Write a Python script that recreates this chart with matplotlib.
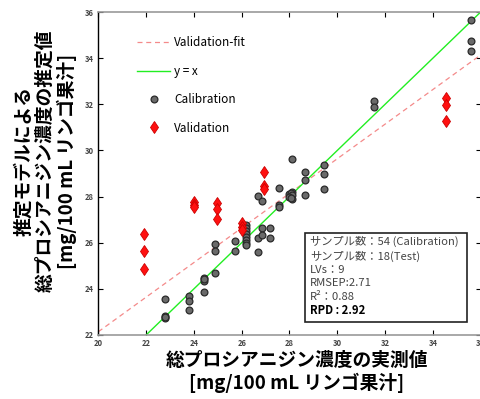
import matplotlib
matplotlib.use("Agg")
import matplotlib.pyplot as plt
from matplotlib.lines import Line2D
from matplotlib.patches import Rectangle
import numpy as np

plt.rcParams['font.family'] = ['Noto Sans CJK JP', 'DejaVu Sans']

# calibration samples (measured, predicted)
cal_x = [22.78, 22.78, 22.78, 22.78,
         23.78, 23.78, 23.78,
         24.44, 24.44, 24.44, 24.44,
         24.88, 24.88, 24.88,
         25.72, 25.72,
         26.17, 26.17, 26.17, 26.17, 26.17, 26.17, 26.17, 26.17,
         26.68, 26.68, 26.85, 26.85, 27.17, 27.17,
         26.67, 26.85, 27.56, 27.56, 27.56,
         28.10, 28.00, 28.05, 28.10, 28.00, 28.10, 28.05,
         28.12,
         28.65, 28.65, 28.65,
         29.43, 29.43, 29.43,
         31.52, 31.52,
         35.58, 35.58, 35.58]
cal_y = [23.55, 22.82, 22.72, 22.77,
         23.70, 23.46, 23.10,
         24.46, 24.36, 24.42, 23.88,
         25.94, 25.63, 24.67,
         26.07, 25.64,
         26.77, 26.64, 26.50, 26.37, 26.24, 26.10, 25.98, 25.92,
         26.22, 25.61, 26.62, 26.33, 26.64, 26.22,
         28.04, 27.80, 28.38, 27.62, 27.55,
         28.21, 28.12, 28.15, 28.06, 28.00, 27.90, 27.95,
         29.63,
         29.08, 28.72, 28.07,
         29.37, 28.98, 28.33,
         32.16, 31.87,
         35.65, 34.76, 34.30]

# validation samples
val_x = [21.92, 21.92, 21.92,
         24.02, 24.02, 24.02,
         24.98, 24.98, 24.98,
         26.00, 26.00, 26.00,
         26.93, 26.93, 26.93,
         34.54, 34.54, 34.54]
val_y = [26.36, 25.64, 24.87,
         27.78, 27.63, 27.53,
         27.71, 27.46, 27.02,
         26.84, 26.70, 26.55,
         29.08, 28.46, 28.32,
         32.26, 31.98, 31.28]

fit_slope = 0.75
fit_intercept = 7.14

x_ticks = [20, 22, 24, 26, 28, 30, 32, 34, 36]
y_ticks = [22, 24, 26, 28, 30, 32, 34, 36]

stats_lines = ["サンプル数：54 (Calibration)",
               "サンプル数：18(Test)",
               "LVs：9",
               "RMSEP:2.71",
               "R²：0.88",
               "RPD : 2.92"]

W, H = 481, 399
fig = plt.figure(figsize=(W / 100, H / 100), dpi=100)
ax = fig.add_axes([98.3 / W, 1 - 335 / H, (480.7 - 98.3) / W, (335 - 12) / H])

line_x = np.array([20, 36])
ax.plot(line_x, fit_slope * line_x + fit_intercept, color='#f48a8a',
        lw=0.9, dashes=(4, 3), zorder=2)
ax.plot(line_x, line_x, color='#22ee22', lw=1.0, zorder=2)

ax.plot(cal_x, cal_y, 'o', ms=4.9, mfc='#6a6a6a', mec='#2a2a2a', mew=0.9,
        ls='none', zorder=3)
ax.plot(val_x, val_y, 'd', ms=6, mfc='#ff1010', mec='#cc0000', mew=0.6,
        ls='none', zorder=4)

ax.set_xlim(20, 36)
ax.set_ylim(22, 36)
ax.set_xticks(x_ticks)
ax.set_yticks(y_ticks)
ax.tick_params(direction='in', top=True, right=True, length=3.5, width=0.8,
               labelsize=5.5, labelcolor='#444444', pad=3)
for lbl in ax.get_xticklabels() + ax.get_yticklabels():
    lbl.set_fontweight('bold')
ax.spines['left'].set_color('black')
ax.spines['left'].set_linewidth(1.0)
for s in ['bottom', 'top', 'right']:
    ax.spines[s].set_color('#999999')
    ax.spines[s].set_linewidth(1.2)

handles = [Line2D([], [], color='#f48a8a', lw=0.9, dashes=(4, 3)),
           Line2D([], [], color='#22ee22', lw=1.0),
           Line2D([], [], marker='o', ms=4.9, mfc='#6a6a6a', mec='#2a2a2a',
                  mew=0.9, ls='none'),
           Line2D([], [], marker='d', ms=6, mfc='#ff1010', mec='#cc0000',
                  mew=0.6, ls='none')]
labels = ['Validation-fit', 'y = x', 'Calibration', 'Validation']
fig.legend(handles, labels, loc='upper left',
           bbox_to_anchor=(136.7 / W, 1 - 36.5 / H), bbox_transform=fig.transFigure,
           frameon=False, fontsize=8.5, handlelength=2.85, handletextpad=0.3,
           labelspacing=1.3, borderpad=0, borderaxespad=0)

# statistics box
fig.patches.append(Rectangle((305 / W, 1 - 322 / H), (467 - 305) / W, (322 - 233) / H,
                             transform=fig.transFigure, fill=True, fc='white',
                             ec='#222222', lw=1.2, zorder=5))
line_y = [241.7, 256, 270, 283.3, 296.7, 311]
for i, (txt, py) in enumerate(zip(stats_lines, line_y)):
    bold = i == len(stats_lines) - 1
    fig.text(310 / W, 1 - py / H, txt, ha='left', va='center', fontsize=8.1,
             color='black' if bold else '#444444',
             fontweight='bold' if bold else 'normal', zorder=6)

fig.text(296.5 / W, 1 - 372 / H,
         "総プロシアニジン濃度の実測値\n[mg/100 mL リンゴ果汁]",
         ha='center', va='center', fontsize=13.5, fontweight='bold',
         linespacing=1.15)
fig.text(46 / W, 1 - 161 / H,
         "推定モデルによる\n総プロシアニジン濃度の推定値\n[mg/100 mL リンゴ果汁]",
         ha='center', va='center', rotation=90, fontsize=13.5, fontweight='bold',
         linespacing=1.15, multialignment='center')

fig.savefig("out.png", dpi=100)
